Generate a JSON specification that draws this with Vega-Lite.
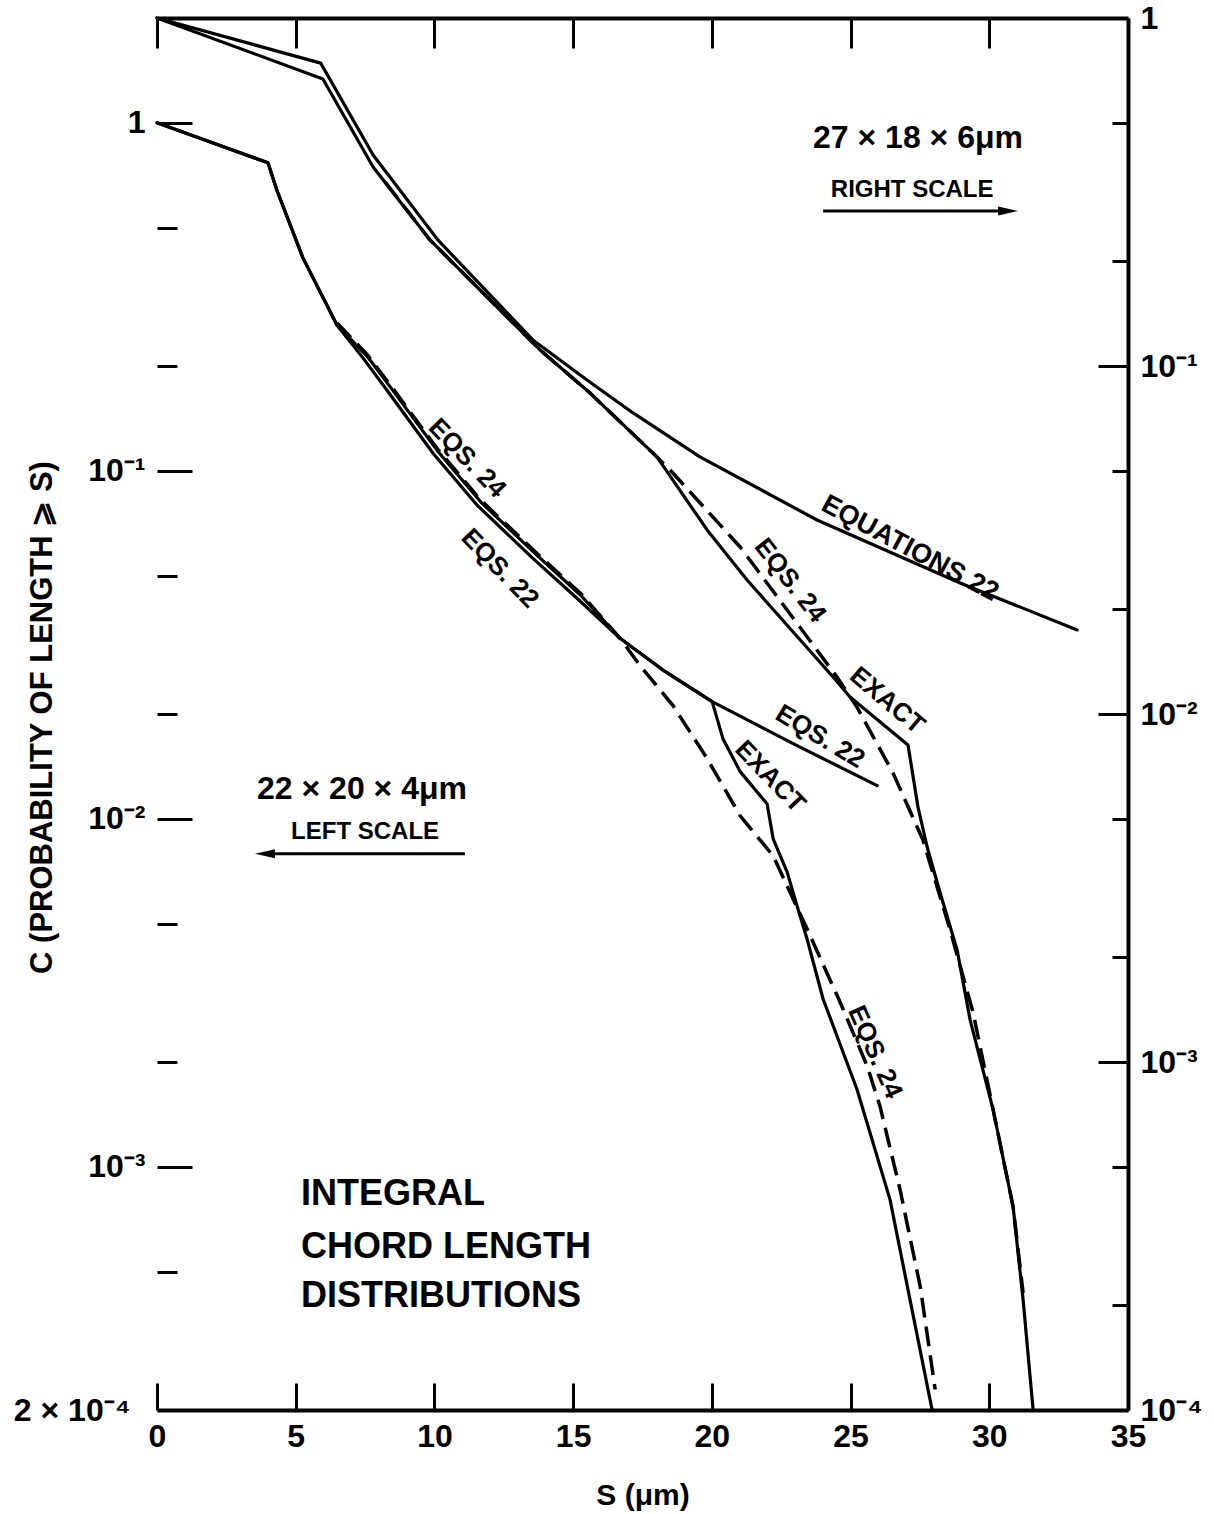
{
  "$schema": "https://vega.github.io/schema/vega-lite/v6.json",
  "width": 971,
  "height": 1392,
  "autosize": {"type": "none"},
  "padding": {"left": 157, "top": 18, "right": 86, "bottom": 104},
  "background": "white",
  "config": {
    "view": {"stroke": null},
    "font": "Liberation Sans",
    "axis": {
      "domainColor": "black", "tickColor": "black", "labelColor": "black", "titleColor": "black",
      "domainWidth": 4, "tickWidth": 3, "grid": false,
      "labelFont": "Liberation Sans", "titleFont": "Liberation Sans",
      "labelFontWeight": "bold", "titleFontWeight": "bold",
      "labelFontSize": 32, "titleFontSize": 30, "labelOverlap": false, "labelFlush": false
    },
    "text": {"font": "Liberation Sans", "color": "black", "fontWeight": "bold"}
  },
  "datasets": {
    "left": [
      {"curve": "EQS. 22", "S": 0, "C": 1},
      {"curve": "EQS. 22", "S": 4.0, "C": 0.767},
      {"curve": "EQS. 22", "S": 4.33, "C": 0.637},
      {"curve": "EQS. 22", "S": 5.26, "C": 0.409},
      {"curve": "EQS. 22", "S": 6.49, "C": 0.262},
      {"curve": "EQS. 22", "S": 7.43, "C": 0.2107},
      {"curve": "EQS. 22", "S": 8.29, "C": 0.1704},
      {"curve": "EQS. 22", "S": 9.95, "C": 0.1123},
      {"curve": "EQS. 22", "S": 11.54, "C": 0.0796},
      {"curve": "EQS. 22", "S": 13.55, "C": 0.056},
      {"curve": "EQS. 22", "S": 15.14, "C": 0.043},
      {"curve": "EQS. 22", "S": 16.69, "C": 0.033},
      {"curve": "EQS. 22", "S": 18.31, "C": 0.0265},
      {"curve": "EQS. 22", "S": 20.01, "C": 0.02171},
      {"curve": "EQS. 22", "S": 23.0, "C": 0.01633},
      {"curve": "EQS. 22", "S": 25.96, "C": 0.01245},
      {"curve": "EXACT", "S": 0, "C": 1},
      {"curve": "EXACT", "S": 4.0, "C": 0.767},
      {"curve": "EXACT", "S": 4.33, "C": 0.637},
      {"curve": "EXACT", "S": 5.26, "C": 0.409},
      {"curve": "EXACT", "S": 6.49, "C": 0.262},
      {"curve": "EXACT", "S": 7.57, "C": 0.2136},
      {"curve": "EXACT", "S": 8.44, "C": 0.1728},
      {"curve": "EXACT", "S": 10.09, "C": 0.1146},
      {"curve": "EXACT", "S": 11.68, "C": 0.0812},
      {"curve": "EXACT", "S": 13.7, "C": 0.0571},
      {"curve": "EXACT", "S": 15.28, "C": 0.0438},
      {"curve": "EXACT", "S": 16.69, "C": 0.033},
      {"curve": "EXACT", "S": 18.31, "C": 0.0265},
      {"curve": "EXACT", "S": 20.01, "C": 0.02171},
      {"curve": "EXACT", "S": 20.4, "C": 0.01699},
      {"curve": "EXACT", "S": 21.02, "C": 0.01366},
      {"curve": "EXACT", "S": 21.99, "C": 0.01104},
      {"curve": "EXACT", "S": 22.21, "C": 0.00876},
      {"curve": "EXACT", "S": 22.71, "C": 0.00704},
      {"curve": "EXACT", "S": 23.07, "C": 0.00562},
      {"curve": "EXACT", "S": 23.43, "C": 0.00452},
      {"curve": "EXACT", "S": 24.01, "C": 0.003034},
      {"curve": "EXACT", "S": 25.23, "C": 0.00167},
      {"curve": "EXACT", "S": 26.42, "C": 0.000806},
      {"curve": "EXACT", "S": 27.14, "C": 0.000416},
      {"curve": "EXACT", "S": 27.94, "C": 0.0002},
      {"curve": "EQS. 24", "S": 6.49, "C": 0.2658},
      {"curve": "EQS. 24", "S": 7.57, "C": 0.216},
      {"curve": "EQS. 24", "S": 8.44, "C": 0.175},
      {"curve": "EQS. 24", "S": 10.09, "C": 0.116},
      {"curve": "EQS. 24", "S": 11.68, "C": 0.0822},
      {"curve": "EQS. 24", "S": 13.7, "C": 0.0578},
      {"curve": "EQS. 24", "S": 15.28, "C": 0.0443},
      {"curve": "EQS. 24", "S": 16.69, "C": 0.033},
      {"curve": "EQS. 24", "S": 17.41, "C": 0.02757},
      {"curve": "EQS. 24", "S": 18.6, "C": 0.02114},
      {"curve": "EQS. 24", "S": 19.83, "C": 0.01489},
      {"curve": "EQS. 24", "S": 21.02, "C": 0.0102},
      {"curve": "EQS. 24", "S": 22.21, "C": 0.00782},
      {"curve": "EQS. 24", "S": 23.43, "C": 0.00483},
      {"curve": "EQS. 24", "S": 24.62, "C": 0.002975},
      {"curve": "EQS. 24", "S": 25.6, "C": 0.001946},
      {"curve": "EQS. 24", "S": 26.06, "C": 0.001493},
      {"curve": "EQS. 24", "S": 26.78, "C": 0.000862},
      {"curve": "EQS. 24", "S": 27.51, "C": 0.000453},
      {"curve": "EQS. 24", "S": 28.05, "C": 0.000229}
    ],
    "right": [
      {"curve": "EQUATIONS 22", "S": 0, "C": 1},
      {"curve": "EQUATIONS 22", "S": 5.9, "C": 0.742},
      {"curve": "EQUATIONS 22", "S": 7.79, "C": 0.404},
      {"curve": "EQUATIONS 22", "S": 10.13, "C": 0.23},
      {"curve": "EQUATIONS 22", "S": 13.55, "C": 0.1188},
      {"curve": "EQUATIONS 22", "S": 15.5, "C": 0.0912},
      {"curve": "EQUATIONS 22", "S": 17.16, "C": 0.0733},
      {"curve": "EQUATIONS 22", "S": 19.57, "C": 0.0548},
      {"curve": "EQUATIONS 22", "S": 23.79, "C": 0.0361},
      {"curve": "EQUATIONS 22", "S": 28.95, "C": 0.0238},
      {"curve": "EQUATIONS 22", "S": 33.17, "C": 0.01744},
      {"curve": "EXACT", "S": 0, "C": 1},
      {"curve": "EXACT", "S": 5.98, "C": 0.668},
      {"curve": "EXACT", "S": 7.79, "C": 0.373},
      {"curve": "EXACT", "S": 9.84, "C": 0.2302},
      {"curve": "EXACT", "S": 13.81, "C": 0.1112},
      {"curve": "EXACT", "S": 15.61, "C": 0.0836},
      {"curve": "EXACT", "S": 18.02, "C": 0.0548},
      {"curve": "EXACT", "S": 19.83, "C": 0.0338},
      {"curve": "EXACT", "S": 21.27, "C": 0.02427},
      {"curve": "EXACT", "S": 24.37, "C": 0.01277},
      {"curve": "EXACT", "S": 24.98, "C": 0.01119},
      {"curve": "EXACT", "S": 27.07, "C": 0.00815},
      {"curve": "EXACT", "S": 27.43, "C": 0.0054},
      {"curve": "EXACT", "S": 27.76, "C": 0.004148},
      {"curve": "EXACT", "S": 28.23, "C": 0.00306},
      {"curve": "EXACT", "S": 28.84, "C": 0.0021},
      {"curve": "EXACT", "S": 29.31, "C": 0.00132},
      {"curve": "EXACT", "S": 30.14, "C": 0.000728},
      {"curve": "EXACT", "S": 30.86, "C": 0.000383},
      {"curve": "EXACT", "S": 31.22, "C": 0.000207},
      {"curve": "EXACT", "S": 31.58, "C": 0.0001},
      {"curve": "EQS. 24", "S": 8.22, "C": 0.338},
      {"curve": "EQS. 24", "S": 9.84, "C": 0.2302},
      {"curve": "EQS. 24", "S": 13.81, "C": 0.1112},
      {"curve": "EQS. 24", "S": 15.61, "C": 0.0836},
      {"curve": "EQS. 24", "S": 18.02, "C": 0.0548},
      {"curve": "EQS. 24", "S": 18.49, "C": 0.0503},
      {"curve": "EQS. 24", "S": 21.02, "C": 0.0302},
      {"curve": "EQS. 24", "S": 24.51, "C": 0.01277},
      {"curve": "EQS. 24", "S": 25.23, "C": 0.01047},
      {"curve": "EQS. 24", "S": 26.53, "C": 0.00677},
      {"curve": "EQS. 24", "S": 27.61, "C": 0.00434},
      {"curve": "EQS. 24", "S": 28.59, "C": 0.002394},
      {"curve": "EQS. 24", "S": 29.42, "C": 0.001383},
      {"curve": "EQS. 24", "S": 30.14, "C": 0.000728},
      {"curve": "EQS. 24", "S": 30.86, "C": 0.000383},
      {"curve": "EQS. 24", "S": 31.22, "C": 0.000217}
    ],
    "notes": [
      {"note": "dims", "text": "27 × 18 × 6μm", "S": 27.43, "C": 0.905},
      {"note": "scale", "text": "RIGHT SCALE", "S": 27.22, "C": 0.641},
      {"note": "dims", "text": "22 × 20 × 4μm", "S": 7.39, "C": 0.0122},
      {"note": "scale", "text": "LEFT SCALE", "S": 7.5, "C": 0.00918},
      {"note": "big", "text": "INTEGRAL", "S": 5.19, "C": 0.000833},
      {"note": "big", "text": "CHORD LENGTH", "S": 5.19, "C": 0.00059},
      {"note": "big", "text": "DISTRIBUTIONS", "S": 5.19, "C": 0.000424},
      {"note": "r28", "text": "EQUATIONS 22", "S": 27.14, "C": 0.0598},
      {"note": "r52", "text": "EQS. 24", "S": 22.82, "C": 0.0484},
      {"note": "r40", "text": "EXACT", "S": 26.32, "C": 0.02186},
      {"note": "r46", "text": "EQS. 24", "S": 11.18, "C": 0.1086},
      {"note": "r46", "text": "EQS. 22", "S": 12.36, "C": 0.0524},
      {"note": "r46", "text": "EXACT", "S": 22.1, "C": 0.01321},
      {"note": "r31", "text": "EQS. 22", "S": 23.9, "C": 0.01722},
      {"note": "r66", "text": "EQS. 24", "S": 25.88, "C": 0.002135}
    ],
    "arrows": [
      {"arrow": "right", "S": 24.01, "S2": 30.68, "C": 0.558},
      {"arrow": "left", "S": 11.1, "S2": 3.89, "C": 0.00793}
    ]
  },
  "layer": [
    {
      "layer": [
        {
          "data": {"name": "left"},
          "transform": [{"filter": "datum.curve != 'EQS. 24'"}],
          "mark": {"type": "line", "color": "black", "strokeWidth": 3.2, "strokeJoin": "round", "strokeCap": "round"},
          "encoding": {
            "x": {"field": "S", "type": "quantitative", "scale": {"domain": [0, 35], "nice": false, "zero": false},
              "axis": {"orient": "bottom", "values": [0, 5, 10, 15, 20, 25, 30, 35], "title": "S (μm)", "tickSize": -27, "labelPadding": 38, "format": "d", "titleY": 85, "titleBaseline": "middle"}},
            "y": {"field": "C", "type": "quantitative", "scale": {"type": "log", "domain": [0.0002, 2]},
              "axis": {"orient": "left", "domain": false,
                "values": [0.0002, 0.0005, 0.001, 0.002, 0.005, 0.01, 0.02, 0.05, 0.1, 0.2, 0.5, 1],
                "labelExpr": "datum.value == 1 ? '1' : datum.value == 0.1 ? '10⁻¹' : datum.value == 0.01 ? '10⁻²' : datum.value == 0.001 ? '10⁻³' : datum.value == 0.0002 ? '2 × 10⁻⁴' : ''",
                "tickSize": {"condition": {"test": "datum.value == 1 || datum.value == 0.1 || datum.value == 0.01 || datum.value == 0.001", "value": -35}, "value": -20},
                "labelPadding": 47,
                "title": "C (PROBABILITY OF LENGTH ⩾ S)", "titleFontSize": 31, "titleX": -115, "titleY": 699, "titleBaseline": "middle"}},
            "detail": {"field": "curve"}
          }
        },
        {
          "data": {"name": "left"},
          "transform": [{"filter": "datum.curve == 'EQS. 24'"}],
          "mark": {"type": "line", "color": "black", "strokeWidth": 3.5, "strokeDash": [20, 9]},
          "encoding": {
            "x": {"field": "S", "type": "quantitative", "scale": {"domain": [0, 35], "nice": false, "zero": false}},
            "y": {"field": "C", "type": "quantitative", "scale": {"type": "log", "domain": [0.0002, 2]}},
            "detail": {"field": "curve"}
          }
        },
        {
          "mark": {"type": "rule", "color": "black", "strokeWidth": 4},
          "encoding": {
            "x": {"datum": 0, "type": "quantitative", "scale": {"domain": [0, 35], "nice": false, "zero": false}},
            "y": {"datum": 0.0002, "type": "quantitative", "scale": {"type": "log", "domain": [0.0002, 2]}},
            "y2": {"datum": 1}
          }
        },
        {
          "data": {"name": "arrows"},
          "mark": {"type": "rule", "color": "black", "strokeWidth": 3},
          "encoding": {
            "x": {"field": "S", "type": "quantitative", "scale": {"domain": [0, 35], "nice": false, "zero": false}},
            "x2": {"field": "S2"},
            "y": {"field": "C", "type": "quantitative", "scale": {"type": "log", "domain": [0.0002, 2]}}
          }
        },
        {
          "data": {"name": "arrows"},
          "transform": [{"filter": "datum.arrow == 'right'"}],
          "mark": {"type": "point", "filled": true, "color": "black", "opacity": 1, "size": 400, "shape": "M-1,-0.45L1,0L-1,0.45Z"},
          "encoding": {
            "x": {"field": "S2", "type": "quantitative", "scale": {"domain": [0, 35], "nice": false, "zero": false}},
            "y": {"field": "C", "type": "quantitative", "scale": {"type": "log", "domain": [0.0002, 2]}}
          }
        },
        {
          "data": {"name": "arrows"},
          "transform": [{"filter": "datum.arrow == 'left'"}],
          "mark": {"type": "point", "filled": true, "color": "black", "opacity": 1, "size": 400, "shape": "M1,-0.45L-1,0L1,0.45Z"},
          "encoding": {
            "x": {"field": "S2", "type": "quantitative", "scale": {"domain": [0, 35], "nice": false, "zero": false}},
            "y": {"field": "C", "type": "quantitative", "scale": {"type": "log", "domain": [0.0002, 2]}}
          }
        },
        {
          "data": {"name": "notes"},
          "transform": [{"filter": "datum.note == 'dims'"}],
          "mark": {"type": "text", "fontSize": 32, "align": "center", "baseline": "middle"},
          "encoding": {
            "x": {"field": "S", "type": "quantitative", "scale": {"domain": [0, 35], "nice": false, "zero": false}},
            "y": {"field": "C", "type": "quantitative", "scale": {"type": "log", "domain": [0.0002, 2]}},
            "text": {"field": "text"}
          }
        },
        {
          "data": {"name": "notes"},
          "transform": [{"filter": "datum.note == 'scale'"}],
          "mark": {"type": "text", "fontSize": 24, "align": "center", "baseline": "middle"},
          "encoding": {
            "x": {"field": "S", "type": "quantitative", "scale": {"domain": [0, 35], "nice": false, "zero": false}},
            "y": {"field": "C", "type": "quantitative", "scale": {"type": "log", "domain": [0.0002, 2]}},
            "text": {"field": "text"}
          }
        },
        {
          "data": {"name": "notes"},
          "transform": [{"filter": "datum.note == 'big'"}],
          "mark": {"type": "text", "fontSize": 36, "align": "left", "baseline": "middle"},
          "encoding": {
            "x": {"field": "S", "type": "quantitative", "scale": {"domain": [0, 35], "nice": false, "zero": false}},
            "y": {"field": "C", "type": "quantitative", "scale": {"type": "log", "domain": [0.0002, 2]}},
            "text": {"field": "text"}
          }
        },
        {
          "data": {"name": "notes"},
          "transform": [{"filter": "datum.note == 'r28'"}],
          "mark": {"type": "text", "fontSize": 27, "align": "center", "baseline": "middle", "angle": 28},
          "encoding": {
            "x": {"field": "S", "type": "quantitative", "scale": {"domain": [0, 35], "nice": false, "zero": false}},
            "y": {"field": "C", "type": "quantitative", "scale": {"type": "log", "domain": [0.0002, 2]}},
            "text": {"field": "text"}
          }
        },
        {
          "data": {"name": "notes"},
          "transform": [{"filter": "datum.note == 'r52'"}],
          "mark": {"type": "text", "fontSize": 26, "align": "center", "baseline": "middle", "angle": 52},
          "encoding": {
            "x": {"field": "S", "type": "quantitative", "scale": {"domain": [0, 35], "nice": false, "zero": false}},
            "y": {"field": "C", "type": "quantitative", "scale": {"type": "log", "domain": [0.0002, 2]}},
            "text": {"field": "text"}
          }
        },
        {
          "data": {"name": "notes"},
          "transform": [{"filter": "datum.note == 'r40'"}],
          "mark": {"type": "text", "fontSize": 26, "align": "center", "baseline": "middle", "angle": 40},
          "encoding": {
            "x": {"field": "S", "type": "quantitative", "scale": {"domain": [0, 35], "nice": false, "zero": false}},
            "y": {"field": "C", "type": "quantitative", "scale": {"type": "log", "domain": [0.0002, 2]}},
            "text": {"field": "text"}
          }
        },
        {
          "data": {"name": "notes"},
          "transform": [{"filter": "datum.note == 'r46'"}],
          "mark": {"type": "text", "fontSize": 26, "align": "center", "baseline": "middle", "angle": 46},
          "encoding": {
            "x": {"field": "S", "type": "quantitative", "scale": {"domain": [0, 35], "nice": false, "zero": false}},
            "y": {"field": "C", "type": "quantitative", "scale": {"type": "log", "domain": [0.0002, 2]}},
            "text": {"field": "text"}
          }
        },
        {
          "data": {"name": "notes"},
          "transform": [{"filter": "datum.note == 'r31'"}],
          "mark": {"type": "text", "fontSize": 26, "align": "center", "baseline": "middle", "angle": 31},
          "encoding": {
            "x": {"field": "S", "type": "quantitative", "scale": {"domain": [0, 35], "nice": false, "zero": false}},
            "y": {"field": "C", "type": "quantitative", "scale": {"type": "log", "domain": [0.0002, 2]}},
            "text": {"field": "text"}
          }
        },
        {
          "data": {"name": "notes"},
          "transform": [{"filter": "datum.note == 'r66'"}],
          "mark": {"type": "text", "fontSize": 26, "align": "center", "baseline": "middle", "angle": 66},
          "encoding": {
            "x": {"field": "S", "type": "quantitative", "scale": {"domain": [0, 35], "nice": false, "zero": false}},
            "y": {"field": "C", "type": "quantitative", "scale": {"type": "log", "domain": [0.0002, 2]}},
            "text": {"field": "text"}
          }
        }
      ]
    },
    {
      "layer": [
        {
          "data": {"name": "right"},
          "transform": [{"filter": "datum.curve != 'EQS. 24'"}],
          "mark": {"type": "line", "color": "black", "strokeWidth": 3.2, "strokeJoin": "round", "strokeCap": "round"},
          "encoding": {
            "x": {"field": "S", "type": "quantitative", "scale": {"domain": [0, 35], "nice": false, "zero": false},
              "axis": {"orient": "top", "values": [0, 5, 10, 15, 20, 25, 30, 35], "labels": false, "title": null, "tickSize": -30}},
            "y": {"field": "C", "type": "quantitative", "scale": {"type": "log", "domain": [0.0001, 1]},
              "axis": {"orient": "right",
                "values": [0.0001, 0.0002, 0.0005, 0.001, 0.002, 0.005, 0.01, 0.02, 0.05, 0.1, 0.2, 0.5, 1],
                "labelExpr": "datum.value == 1 ? '1' : datum.value == 0.1 ? '10⁻¹' : datum.value == 0.01 ? '10⁻²' : datum.value == 0.001 ? '10⁻³' : datum.value == 0.0001 ? '10⁻⁴' : ''",
                "tickSize": {"condition": {"test": "datum.value == 1 || datum.value == 0.1 || datum.value == 0.01 || datum.value == 0.001 || datum.value == 0.0001", "value": -30}, "value": -16},
                "labelPadding": 42, "title": null}},
            "detail": {"field": "curve"}
          }
        },
        {
          "data": {"name": "right"},
          "transform": [{"filter": "datum.curve == 'EQS. 24'"}],
          "mark": {"type": "line", "color": "black", "strokeWidth": 3.5, "strokeDash": [20, 9]},
          "encoding": {
            "x": {"field": "S", "type": "quantitative", "scale": {"domain": [0, 35], "nice": false, "zero": false}},
            "y": {"field": "C", "type": "quantitative", "scale": {"type": "log", "domain": [0.0001, 1]}},
            "detail": {"field": "curve"}
          }
        }
      ]
    }
  ],
  "resolve": {"scale": {"y": "independent"}, "axis": {"x": "independent", "y": "independent"}}
}
